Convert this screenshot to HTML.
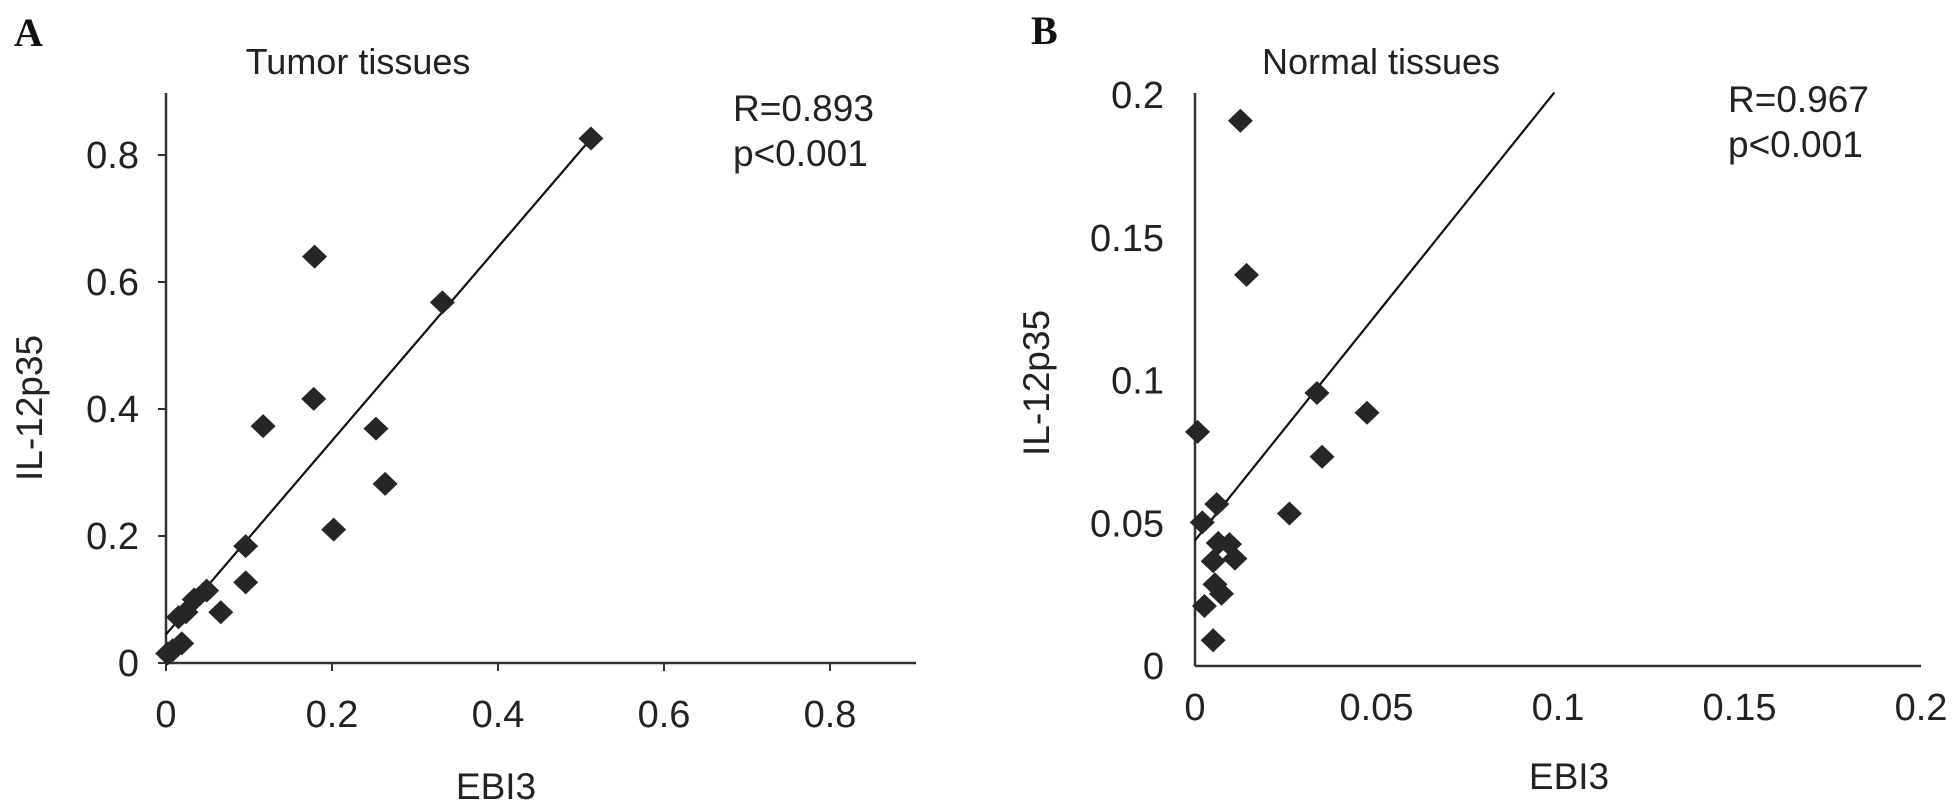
<!DOCTYPE html>
<html><head><meta charset="utf-8"><style>
html,body{margin:0;padding:0;background:#fff;}
svg{display:block;font-family:"Liberation Sans",Arial,sans-serif;}
</style></head><body>
<svg id="c" width="1956" height="807" viewBox="0 0 1956 807" xmlns="http://www.w3.org/2000/svg"></svg>
<script>
const aX=[0.512,0.333,0.179,0.178,0.117,0.253,0.264,0.202,0.096,0.096,0.066,0.049,0.034,0.024,0.015,0.019,0.008,0.002];
const aY=[0.826,0.568,0.640,0.416,0.373,0.369,0.282,0.210,0.184,0.127,0.080,0.114,0.100,0.080,0.072,0.031,0.020,0.015];
const aTicksX=[0,0.2,0.4,0.6,0.8];
const aTicksXLbl=["0","0.2","0.4","0.6","0.8"];
const aTicksY=[0,0.2,0.4,0.6,0.8];
const aTicksYLbl=["0","0.2","0.4","0.6","0.8"];
const aFit=[0.045,1.525];
const bX=[0.0125,0.0142,0.0336,0.0474,0.0007,0.035,0.026,0.006,0.002,0.0064,0.0095,0.011,0.005,0.0055,0.0073,0.0026,0.005];
const bY=[0.191,0.137,0.0956,0.0887,0.082,0.0733,0.0534,0.0567,0.0503,0.0431,0.0427,0.0376,0.0367,0.0286,0.0253,0.021,0.009];
const bTicksX=[0,0.05,0.1,0.15,0.2];
const bTicksXLbl=["0","0.05","0.1","0.15","0.2"];
const bTicksY=[0,0.05,0.1,0.15,0.2];
const bTicksYLbl=["0","0.05","0.1","0.15","0.2"];
const bFit=[0.044,1.585];

const svg=document.getElementById('c');
const NS='http://www.w3.org/2000/svg';
function mk(tag,attrs,parent,text){const e=document.createElementNS(NS,tag);for(const k in attrs)e.setAttribute(k,attrs[k]);if(text!==undefined)e.textContent=text;(parent||svg).appendChild(e);return e;}

function panel(cfg){
  const g=mk('g',{});
  
  
  const sx=v=>cfg.x0+(v-cfg.xmin)/(cfg.xmax-cfg.xmin)*(cfg.x1-cfg.x0);
  const sy=v=>cfg.y0-(v-cfg.ymin)/(cfg.ymax-cfg.ymin)*(cfg.y0-cfg.y1);
  const ax=mk('line',{x1:cfg.x0,y1:cfg.y0,x2:cfg.xEnd,y2:cfg.y0,stroke:'#333','stroke-width':2.5},g);
  
  
  const ay=mk('line',{x1:cfg.x0,y1:cfg.y0,x2:cfg.x0,y2:cfg.yTop,stroke:'#333','stroke-width':2.5},g);
  
  
  cfg.tx.forEach((v,i)=>{
    if(cfg.ticks)mk('line',{x1:sx(v),y1:cfg.y0,x2:sx(v),y2:cfg.y0+8,stroke:'#333','stroke-width':2},g);
    const t=mk('text',{x:sx(v),y:cfg.y0+cfg.xLblOff,'text-anchor':'middle','font-size':38,fill:'#222'},g,cfg.txl[i]);
    
    
  });
  cfg.ty.forEach((v,i)=>{
    if(cfg.ticks)mk('line',{x1:cfg.x0-8,y1:sy(v),x2:cfg.x0,y2:sy(v),stroke:'#333','stroke-width':2},g);
    const t=mk('text',{x:cfg.x0-cfg.lblGap,y:sy(v)+13,'text-anchor':'end','font-size':38,fill:'#222'},g,cfg.tyl[i]);
    
    
  });
  const xe=cfg.fitEnd;
  const fl=mk('line',{x1:sx(0),y1:sy(cfg.fit[0]),x2:sx(xe),y2:sy(cfg.fit[0]+cfg.fit[1]*xe),stroke:'#111','stroke-width':2.2},g);
  
  
  cfg.xs.forEach((v,i)=>{
    const cx=sx(v),cy=sy(cfg.ys[i]);
    const p=mk('polygon',{points:`${cx},${cy-12} ${cx+12.5},${cy} ${cx},${cy+12} ${cx-12.5},${cy}`,fill:'#262626'},g);
    
    
  });
}
panel({id:'tumor',x0:166,x1:830,xmin:0,xmax:0.8,y0:663,y1:155,ymin:0,ymax:0.8,xEnd:916,yTop:93,tx:aTicksX,txl:aTicksXLbl,ty:aTicksY,tyl:aTicksYLbl,xs:aX,ys:aY,fit:aFit,fitEnd:0.512,ticks:true,lblGap:27,xLblOff:64});
panel({id:'normal',x0:1195,x1:1921,xmin:0,xmax:0.2,y0:666,y1:95,ymin:0,ymax:0.2,xEnd:1921,yTop:93,tx:bTicksX,txl:bTicksXLbl,ty:bTicksY,tyl:bTicksYLbl,xs:bX,ys:bY,fit:bFit,fitEnd:0.099,ticks:false,lblGap:31,xLblOff:54});
</script>
<svg style="position:absolute;left:0;top:0" width="1956" height="807" xmlns="http://www.w3.org/2000/svg">
<text x="14" y="46" font-family="Liberation Serif,serif" font-weight="bold" font-size="40" fill="#111">A</text>
<text x="358" y="74" text-anchor="middle" font-family="Liberation Sans,sans-serif" font-size="36" fill="#222">Tumor tissues</text>
<text x="733" y="121" font-family="Liberation Sans,sans-serif" font-size="37" fill="#222">R=0.893</text>
<text x="733" y="166" font-family="Liberation Sans,sans-serif" font-size="37" fill="#222">p&lt;0.001</text>
<text x="496" y="799" text-anchor="middle" font-family="Liberation Sans,sans-serif" font-size="37" fill="#222">EBI3</text>
<text transform="translate(42,408) rotate(-90)" text-anchor="middle" font-family="Liberation Sans,sans-serif" font-size="37" fill="#222">IL-12p35</text>
<text x="1031" y="44" font-family="Liberation Serif,serif" font-weight="bold" font-size="40" fill="#111">B</text>
<text x="1381" y="74" text-anchor="middle" font-family="Liberation Sans,sans-serif" font-size="36" fill="#222">Normal tissues</text>
<text x="1728" y="112" font-family="Liberation Sans,sans-serif" font-size="37" fill="#222">R=0.967</text>
<text x="1728" y="157" font-family="Liberation Sans,sans-serif" font-size="37" fill="#222">p&lt;0.001</text>
<text x="1569" y="789" text-anchor="middle" font-family="Liberation Sans,sans-serif" font-size="37" fill="#222">EBI3</text>
<text transform="translate(1049,383) rotate(-90)" text-anchor="middle" font-family="Liberation Sans,sans-serif" font-size="37" fill="#222">IL-12p35</text>
</svg>
</body></html>
